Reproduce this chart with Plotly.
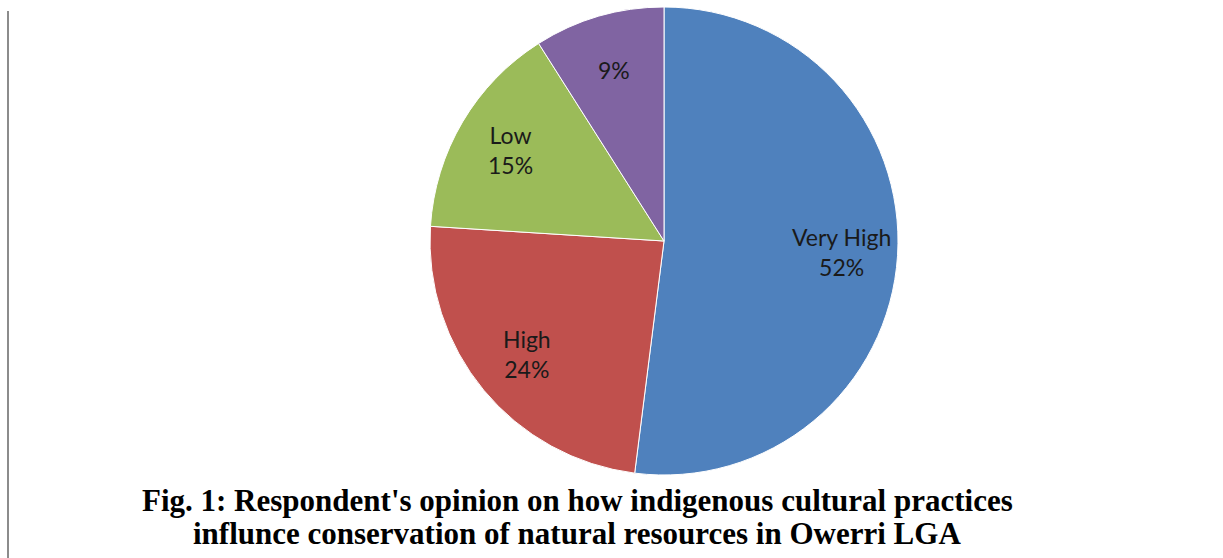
import math
import plotly.graph_objects as go

categories = ["Very High", "High", "Low", "Very Low"]
values = [52, 24, 15, 9]
slice_text = ["Very High<br>52%", "High<br>24%", "Low<br>15%", "9%"]
colors = ["#4F81BD", "#C0504D", "#9BBB59", "#8064A2"]
title_lines = [
    "Fig. 1: Respondent's opinion on how indigenous cultural practices",
    "influnce conservation of natural resources in Owerri LGA",
]

W, H = 1223, 558
cx, cy, r = 664, 241, 234
label_frac = 0.76

fig = go.Figure(go.Pie(
    labels=categories,
    values=values,
    textinfo="none",
    sort=False,
    direction="clockwise",
    rotation=0,
    marker=dict(colors=colors, line=dict(color="#ffffff", width=1)),
    domain=dict(x=[(cx - r) / W, (cx + r) / W], y=[(H - cy - r) / H, (H - cy + r) / H]),
    showlegend=False,
    hoverinfo="label+percent",
))

# slice labels placed at the mid-angle of each slice (derived from the data)
total = sum(values)
cum = 0
for v, t in zip(values, slice_text):
    theta = math.radians((cum + v / 2) / total * 360)
    cum += v
    px = cx + label_frac * r * math.sin(theta)
    py = cy - label_frac * r * math.cos(theta)
    fig.add_annotation(
        text=t, xref="paper", yref="paper", x=px / W, y=(H - py) / H,
        xanchor="center", yanchor="middle", showarrow=False, align="center",
        font=dict(family="Lato", size=23, color="#1a1a1a"),
    )

fig.add_shape(type="line", xref="paper", yref="paper",
              x0=8 / W, x1=8 / W, y0=0, y1=(H - 11) / H,
              line=dict(color="#8c8c8c", width=2))

for line, ly in zip(title_lines, [500, 533]):
    fig.add_annotation(
        text="<b>" + line + "</b>",
        xref="paper", yref="paper", x=577 / W, y=(H - ly) / H,
        xanchor="center", yanchor="middle", showarrow=False,
        font=dict(family="Liberation Serif", size=31, color="#000000"),
    )

fig.update_layout(
    width=W, height=H,
    margin=dict(l=0, r=0, t=0, b=0),
    paper_bgcolor="#ffffff",
    plot_bgcolor="#ffffff",
)

fig.write_html("out.html")
